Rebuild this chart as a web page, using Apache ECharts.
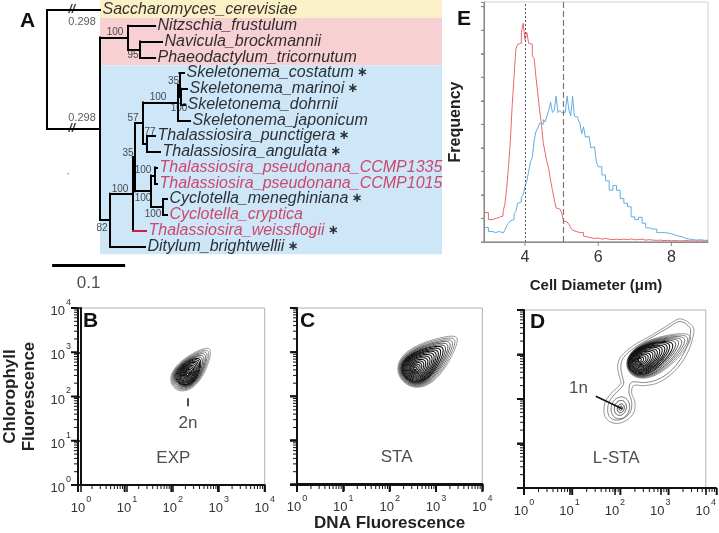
<!DOCTYPE html>
<html><head><meta charset="utf-8">
<script src="https://cdn.jsdelivr.net/npm/echarts@6/dist/echarts.min.js"></script>
<style>html,body{margin:0;padding:0;background:#fff}#c{width:719px;height:533px}</style>
</head><body><div id="c"></div>
<script>
// ================= DATA =================
// ---- Panel A: phylogenetic tree ----
const tipNames = ['Saccharomyces_cerevisiae','Nitzschia_frustulum','Navicula_brockmannii','Phaeodactylum_tricornutum',
  'Skeletonema_costatum','Skeletonema_marinoi','Skeletonema_dohrnii','Skeletonema_japonicum',
  'Thalassiosira_punctigera','Thalassiosira_angulata','Thalassiosira_pseudonana_CCMP1335','Thalassiosira_pseudonana_CCMP1015',
  'Cyclotella_meneghiniana','Cyclotella_cryptica','Thalassiosira_weissflogii','Ditylum_brightwellii'];
const tipParent = ['root','Pink','NavPh','NavPh','S35','S100','S100','S','N77','N77','Pse','Pse','Cyc','Cyc','N1','Blue'];
const tipDepth = [0.0726,0.148,0.1575,0.148,0.1877,0.1918,0.189,0.1959,0.148,0.1548,0.1507,0.1507,0.1644,0.1644,0.1356,0.1342];
const nodeIds = ['root','A','Pink','NavPh','Blue','N1','N2','N57','S','S35','S100','N77','N4','Pse','Cyc'];
const nodeParent = [null,'root','A','Pink','A','Blue','N1','N2','N57','S','S35','N57','N2','N4','N4'];
const nodeDepth = [0,0.0726,0.111,0.1274,0.0863,0.1178,0.1205,0.1315,0.1795,0.1815,0.1836,0.137,0.1425,0.148,0.1589];
const nodeSupport = ['','','100','95','82','100','35','57','100','35','100','77','100','100','100'];
const brokenBranches = ['Saccharomyces_cerevisiae','A'];
const brokenBranchLength = ['0.298','0.298'];
const redTipNames = ['Thalassiosira_pseudonana_CCMP1335','Thalassiosira_pseudonana_CCMP1015','Cyclotella_cryptica','Thalassiosira_weissflogii'];
const starTipNames = ['Skeletonema_costatum','Skeletonema_marinoi','Thalassiosira_punctigera','Thalassiosira_angulata','Cyclotella_meneghiniana','Thalassiosira_weissflogii','Ditylum_brightwellii'];
const redBranchTips = ['Thalassiosira_weissflogii'];
const bandFirstTip = [0,1,4];
const bandLastTip = [0,3,15];
const scaleBarLength = 0.1;

// ---- Panel E: cell diameter histograms ----
const histEdges = [2.9,3.0,3.1,3.2,3.3,
  3.40,3.45,3.50,3.55,3.60,3.65,3.70,3.75,3.80,3.85,3.90,3.95,4.00,4.05,4.10,4.15,4.20,4.25,4.30,4.35,
  4.40,4.45,4.50,4.55,4.60,4.65,4.70,4.75,4.80,4.85,4.90,4.95,5.00,5.05,5.10,5.15,5.20,5.25,5.30,5.35,
  5.40,5.45,5.50,5.55,5.60,5.65,5.70,5.75,5.80,5.85,5.90,5.95,
  6.0,6.1,6.2,6.3,6.4,6.5,6.6,6.7,6.8,6.9,7.0,7.1,7.2,7.3,7.4,7.5,7.6,7.7,7.8,7.9,8.0,8.1,8.2,8.3,8.4,8.5,8.6,8.7,8.8,8.9];
const histEnd = 9.0;
const histRed = [1.25,0.95,1.0,1.05,1.1,
  1.3,1.6,2.3,3.2,4.3,5.8,7.0,8.2,8.4,8.45,8.9,9.3,8.6,8.9,8.45,8.4,7.9,7.8,7.0,6.3,
  5.6,5.0,4.2,3.8,3.4,3.1,2.6,2.2,1.8,1.45,1.4,1.35,1.25,0.9,0.85,0.8,0.75,0.6,0.5,0.45,
  0.5,0.4,0.38,0.4,0.25,0.22,0.2,0.18,0.2,0.15,0.14,0.17,
  0.12,0.15,0.12,0.1,0.12,0.1,0.12,0.1,0.13,0.1,0.1,0.12,0.08,0.1,0.08,0.07,0.08,0.06,0.07,0.05,0.06,0.05,0.05,0.06,0.05,0.05,0.04,0.05,0.04,0.04];
const histBlue = [0.62,0.45,0.4,0.45,0.38,
  0.45,0.5,0.7,0.8,0.9,0.95,1.2,1.3,1.65,1.7,1.9,2.0,2.35,2.6,3.0,3.4,3.6,4.3,4.7,4.85,
  5.05,5.0,5.2,5.1,5.35,5.6,5.95,5.5,5.6,6.2,5.5,5.6,5.5,5.5,5.45,6.2,5.6,5.35,6.2,5.35,
  5.3,5.2,5.05,4.6,4.9,4.45,4.5,4.45,4.0,4.05,4.0,3.4,
  3.2,2.85,2.6,2.2,2.4,2.2,1.85,1.65,1.5,1.07,0.95,1.05,0.8,0.6,0.55,0.55,0.4,0.4,0.38,0.35,0.3,0.25,0.22,0.15,0.12,0.1,0.08,0.1,0.07,0.08];
const histMarkers = [4.0, 5.05];
const histTicks = [4,6,8];
const freqTicks = [0,1,2,3,4,5,6,7,8,9,10];

// ---- Panels B-D: contours in log10 units [cx, cy, semiMajor, semiMinor, angleDeg, egg] ----
const contoursB = [
  [2.42,2.63,0.58,0.28,50,0.35],[2.41,2.62,0.54,0.265,50,0.35],[2.40,2.61,0.50,0.25,50,0.35],
  [2.39,2.60,0.46,0.24,50,0.33],[2.38,2.59,0.42,0.23,50,0.3],[2.37,2.58,0.385,0.22,51,0.3],
  [2.36,2.57,0.35,0.205,52,0.28],[2.355,2.56,0.32,0.19,53,0.25],[2.35,2.55,0.29,0.175,54,0.25],
  [2.345,2.545,0.26,0.16,55,0.22],[2.34,2.54,0.23,0.145,55,0.2],[2.335,2.53,0.20,0.13,55,0.2],
  [2.33,2.525,0.17,0.11,55,0.18],[2.33,2.52,0.14,0.095,55,0.15],[2.325,2.515,0.11,0.075,55,0.12],
  [2.32,2.51,0.08,0.058,55,0.1],[2.32,2.505,0.055,0.04,55,0.05],[2.32,2.50,0.03,0.022,55,0]];
const contoursC = [
  [2.86,2.84,0.76,0.40,40,0.45],[2.84,2.825,0.72,0.38,40,0.45],[2.82,2.81,0.68,0.36,40,0.45],
  [2.80,2.80,0.64,0.345,40,0.45],[2.78,2.785,0.60,0.33,40,0.42],[2.76,2.77,0.56,0.315,40,0.42],
  [2.74,2.76,0.52,0.30,40,0.4],[2.72,2.745,0.48,0.285,41,0.4],[2.70,2.73,0.44,0.27,41,0.38],
  [2.685,2.72,0.40,0.255,42,0.36],[2.67,2.71,0.36,0.24,42,0.34],[2.655,2.70,0.32,0.22,42,0.32],
  [2.64,2.69,0.28,0.20,42,0.3],[2.625,2.68,0.24,0.18,42,0.28],[2.61,2.67,0.20,0.155,42,0.25],
  [2.595,2.66,0.165,0.13,42,0.2],[2.58,2.65,0.13,0.105,42,0.15],[2.57,2.64,0.095,0.08,42,0.1],
  [2.56,2.635,0.06,0.05,42,0.05],[2.55,2.63,0.03,0.025,42,0]];
const contoursD = [
  [2.98,3.02,0.78,0.36,30,0.35],[2.95,3.01,0.74,0.345,30,0.35],[2.92,3.00,0.70,0.33,30,0.35],
  [2.89,2.99,0.66,0.32,30,0.35],[2.86,2.98,0.62,0.305,31,0.35],[2.83,2.97,0.58,0.29,31,0.33],
  [2.80,2.96,0.54,0.28,31,0.32],[2.77,2.955,0.50,0.265,32,0.3],[2.75,2.95,0.46,0.25,32,0.3],
  [2.73,2.94,0.42,0.235,32,0.28],[2.71,2.935,0.38,0.22,33,0.26],[2.69,2.93,0.34,0.205,33,0.25],
  [2.67,2.92,0.30,0.19,33,0.24],[2.655,2.915,0.26,0.17,33,0.22],[2.64,2.91,0.22,0.15,33,0.2],
  [2.62,2.90,0.18,0.13,33,0.17],[2.605,2.895,0.14,0.105,33,0.13],[2.59,2.89,0.10,0.08,33,0.1],
  [2.57,2.885,0.065,0.055,33,0.05],[2.55,2.88,0.035,0.03,33,0]];
const contoursD1n = [[2.12,1.80,0.25,0.20,75,0],[2.12,1.80,0.17,0.13,75,0],[2.13,1.79,0.10,0.075,75,0],[2.13,1.79,0.05,0.035,75,0]];
const dPeanutOuter = [[3.72,3.62],[3.44,3.80],[3.17,3.66],[2.82,3.44],[2.41,3.20],[2.13,2.95],[2.06,2.73],[2.10,2.50],
  [2.13,2.35],[1.92,2.13],[1.78,1.91],[1.78,1.61],[1.96,1.46],[2.20,1.49],[2.41,1.68],[2.44,1.94],[2.37,2.13],
  [2.41,2.30],[2.65,2.30],[2.96,2.37],[3.31,2.62],[3.58,3.00],[3.72,3.40]];
const dPeanutInner = [[3.65,3.60],[3.43,3.74],[3.17,3.60],[2.82,3.39],[2.43,3.15],[2.19,2.93],[2.13,2.73],[2.16,2.52],
  [2.19,2.33],[1.99,2.10],[1.86,1.90],[1.86,1.64],[1.99,1.53],[2.18,1.56],[2.34,1.71],[2.37,1.94],[2.31,2.14],
  [2.36,2.37],[2.66,2.37],[2.95,2.44],[3.27,2.67],[3.52,3.03],[3.65,3.40]];
const logMin = 0, logMax = 4;
const logMajorTicks = [0,1,2,3,4];

// ================= BUILD =================
const RED = '#cc1f45';
const FONT = 'Liberation Sans, Arial, sans-serif';
const treeYMin = -0.635, treeYMax = 18.41, treeXMax = 0.5411;
const extE = [2.88, 9.0, 0, 10.2];
const extLog = [logMin, logMax, logMin, logMax];

const grids = [
  {left:47, top:0, width:395, height:300},
  {left:484, top:2, width:224, height:240, show:true, borderColor:'#d0d0d0', borderWidth:1},
  {left:78, top:308, width:186.7, height:177, show:true, borderColor:'#b0b0b0', borderWidth:1},
  {left:297, top:308, width:185.3, height:177, show:true, borderColor:'#b0b0b0', borderWidth:1},
  {left:524, top:310, width:192.7, height:178, show:true, borderColor:'#b0b0b0', borderWidth:1}
];

const nodeX = {}, nodeY = {}, parentOf = {}, childrenOf = {};
tipNames.forEach((n,i)=>{ nodeX[n]=tipDepth[i]; nodeY[n]=i; parentOf[n]=tipParent[i]; });
nodeIds.forEach((id,i)=>{ nodeX[id]=nodeDepth[i]; if(nodeParent[i]) parentOf[id]=nodeParent[i]; });
Object.keys(parentOf).forEach(c=>{ (childrenOf[parentOf[c]] = childrenOf[parentOf[c]] || []).push(c); });
function yOf(id){ if(nodeY[id]!==undefined) return nodeY[id]; const ys=childrenOf[id].map(yOf); nodeY[id]=(Math.min(...ys)+Math.max(...ys))/2; return nodeY[id]; }
yOf('root');

const treeEdges = [];
Object.keys(childrenOf).forEach(p=>{
  const ys = childrenOf[p].map(c=>nodeY[c]);
  treeEdges.push({coords:[[nodeX[p],Math.min(...ys)],[nodeX[p],Math.max(...ys)]]});
});
Object.keys(parentOf).forEach(c=>{
  const p = parentOf[c];
  treeEdges.push({coords:[[nodeX[p],nodeY[c]],[nodeX[c],nodeY[c]]], lineStyle:{color: redBranchTips.includes(c)?RED:'#000'}});
});

const supportOffsets = [null,null,[-13,-5],[-7,6],[-8,8],[-13,-5],[-7,-4],[-10,-5],[-20,-5],[-6,-4],[-2,12],[3,-12],[-8,7],[-12,-5],[-10,7]];
const supportData = [];
nodeIds.forEach((id,i)=>{ if(nodeSupport[i]) supportData.push({value:[nodeX[id],nodeY[id]], name:nodeSupport[i], label:{offset:supportOffsets[i]}}); });

const tipData = tipNames.map((n,i)=>({value:[nodeX[n],i], name:n}));
const bandColors = ['#faf1c9','#f6d0d3','#cde6f8'];

const breakX = 0.034, brokenLabelX = 0.048;
const breakData = brokenBranches.map(b=>({value:[breakX,nodeY[b]], name:'//'}));
const brokenLabelData = brokenBranches.map((b,i)=>({value:[brokenLabelX,nodeY[b]], name:brokenBranchLength[i], label:{offset:[0, i===0?12:-11]}}));

function stepData(vals){ const d = histEdges.map((e,i)=>[e, vals[i]]); d.push([histEnd, vals[vals.length-1]]); return d; }

const minorLog = [];
for(let d=logMin; d<logMax; d++) for(let k=2;k<=9;k++) minorLog.push(d+Math.log10(k));

function contourRender(shadeFn, widthFn){
  return function(params, api){
    const cx=api.value(0), cy=api.value(1), a=api.value(2), b=api.value(3), ang=api.value(4)*Math.PI/180, egg=api.value(5);
    const pts=[];
    for(let k=0;k<=80;k++){
      const t=k/80*2*Math.PI, u=a*Math.cos(t), v=b*Math.sin(t)*(1-egg*Math.cos(t));
      pts.push(api.coord([cx+u*Math.cos(ang)-v*Math.sin(ang), cy+u*Math.sin(ang)+v*Math.cos(ang)]));
    }
    const g = shadeFn(params.dataIndex);
    return {type:'polyline', silent:true, shape:{points:pts}, style:{stroke:'rgb('+g+','+g+','+g+')', lineWidth:widthFn(params.dataIndex), fill:null}};
  };
}
const shadeMain = i => i<6 ? Math.round(135 - i*22) : 15;
const widthMain = i => i<6 ? 0.85 : 1.05;
const shade1n = i => [95,60,30,20][i];

const supRich = {
  b:{fontSize:13, color:'#333', fontFamily:FONT, verticalAlign:'bottom', lineHeight:20},
  s:{fontSize:9, color:'#333', fontFamily:FONT, verticalAlign:'top', lineHeight:20, padding:[0,0,0,1]}
};
function logMajor(g, withLabels, extra){
  return Object.assign({gridIndex:g, type:'value', min:logMin, max:logMax, interval:1,
    axisLine:{show:true, onZero:false, lineStyle:{color:'#111', width:2}},
    axisTick:{show:true, inside:false, length:7, lineStyle:{color:'#111', width:1.5}},
    minorTick:{show:false},
    axisLabel:{show:withLabels, margin:10, formatter:v=>'{b|10}{s|'+Math.round(v)+'}', rich:supRich},
    splitLine:{show:false}}, extra||{});
}

const xAxes = [
  {gridIndex:0, type:'value', min:0, max:treeXMax, show:false},
  {gridIndex:1, type:'value', min:extE[0], max:extE[1],
    axisLine:{show:true, onZero:false, lineStyle:{color:'#8a8a8a'}}, axisTick:{show:false},
    axisLabel:{show:true, customValues:histTicks, fontSize:16, color:'#333', margin:8, fontFamily:FONT},
    splitLine:{show:false},
    name:'Cell Diameter (μm)', nameLocation:'middle', nameGap:36,
    nameTextStyle:{fontSize:15, fontWeight:'bold', color:'#222', fontFamily:FONT}},
  logMajor(2,true),
  logMajor(3,true,{name:'DNA Fluorescence', nameLocation:'middle', nameGap:31,
    nameTextStyle:{fontSize:17, fontWeight:'bold', color:'#222', fontFamily:FONT}}),
  logMajor(4,true)
];
const yAxes = [
  {gridIndex:0, type:'value', min:treeYMin, max:treeYMax, inverse:true, show:false},
  {gridIndex:1, type:'value', min:extE[2], max:extE[3], interval:1,
    axisLine:{show:true, onZero:false, lineStyle:{color:'#8a8a8a'}},
    axisTick:{show:true, inside:false, length:3, lineStyle:{color:'#8a8a8a'}},
    axisLabel:{show:false}, splitLine:{show:false},
    name:'Frequency', nameLocation:'middle', nameGap:20, nameRotate:90,
    nameTextStyle:{fontSize:16, fontWeight:'bold', color:'#222', fontFamily:FONT}},
  logMajor(2,true,{name:'Chlorophyll\nFluorescence', nameLocation:'middle', nameGap:42, nameRotate:90,
    nameTextStyle:{fontSize:17, fontWeight:'bold', color:'#222', lineHeight:19, fontFamily:FONT}}),
  logMajor(3,false), logMajor(4,false)
];

const series = [
  {type:'custom', xAxisIndex:0, yAxisIndex:0, z:1, silent:true,
    data: bandFirstTip.map((f,i)=>[f, bandLastTip[i]]),
    renderItem:(params, api)=>{
      const first=api.value(0), last=api.value(1);
      const p0=api.coord([nodeX.A, first===0?treeYMin:first-0.5]);
      const p1=api.coord([treeXMax, last+0.5]);
      return {type:'rect', shape:{x:p0[0], y:p0[1], width:p1[0]-p0[0], height:p1[1]-p0[1]}, style:{fill:bandColors[params.dataIndex]}};
    }},
  {type:'lines', coordinateSystem:'cartesian2d', xAxisIndex:0, yAxisIndex:0, z:3, silent:true,
    lineStyle:{color:'#000', width:2, cap:'square', opacity:1}, data:treeEdges},
  {type:'lines', coordinateSystem:'cartesian2d', xAxisIndex:0, yAxisIndex:0, z:3, silent:true,
    lineStyle:{color:'#000', width:3, opacity:1}, data:[{coords:[[0.007,16.2],[0.007+scaleBarLength,16.2]]}]},
  {type:'scatter', xAxisIndex:0, yAxisIndex:0, symbolSize:1, itemStyle:{color:'transparent'}, z:4, silent:true,
    data:[{value:[0.007+scaleBarLength/2, 17.35], name:String(scaleBarLength)}],
    label:{show:true, position:'inside', formatter:'{b}', fontSize:17, color:'#222', fontFamily:FONT}},
  {type:'scatter', xAxisIndex:0, yAxisIndex:0, symbolSize:1.5, itemStyle:{color:'#555'}, z:4, silent:true, data:[[0.029,10.4]]},
  {type:'scatter', xAxisIndex:0, yAxisIndex:0, symbolSize:1, itemStyle:{color:'transparent'}, z:4, silent:true, data:tipData,
    label:{show:true, position:'right', distance:2,
      formatter:p=>(redTipNames.includes(p.name)?'{r|'+p.name+'}':'{n|'+p.name+'}')+(starTipNames.includes(p.name)?' {a|∗}':''),
      rich:{n:{fontSize:16, fontStyle:'italic', color:'#000', fontFamily:FONT},
            r:{fontSize:16, fontStyle:'italic', color:RED, fontFamily:FONT},
            a:{fontSize:13, fontWeight:'bold', color:'#000', fontFamily:'DejaVu Sans'}}}},
  {type:'scatter', xAxisIndex:0, yAxisIndex:0, symbolSize:1, itemStyle:{color:'transparent'}, z:4, silent:true, data:supportData,
    label:{show:true, position:'inside', formatter:'{b}', fontSize:10, color:'#222', fontFamily:FONT}},
  {type:'scatter', xAxisIndex:0, yAxisIndex:0, symbolSize:1, itemStyle:{color:'transparent'}, z:5, silent:true, data:breakData,
    label:{show:true, position:'inside', formatter:'{b}', fontSize:12, fontWeight:'bold', fontStyle:'italic', color:'#000', fontFamily:FONT}},
  {type:'scatter', xAxisIndex:0, yAxisIndex:0, symbolSize:1, itemStyle:{color:'transparent'}, z:5, silent:true, data:brokenLabelData,
    label:{show:true, position:'inside', formatter:'{b}', fontSize:11, color:'#333', fontFamily:FONT}},

  // Panel E
  {type:'line', xAxisIndex:1, yAxisIndex:1, step:'end', symbol:'none', data:stepData(histBlue),
    lineStyle:{color:'#62ade0', width:1}, z:3, silent:true},
  {type:'line', xAxisIndex:1, yAxisIndex:1, step:'end', symbol:'none', data:stepData(histRed),
    lineStyle:{color:'#e8676f', width:1}, z:3, silent:true,
    markLine:{silent:true, symbol:['none','none'], label:{show:false},
      data:[{xAxis:histMarkers[0], lineStyle:{type:[2,2], color:'#555', width:1}},
            {xAxis:histMarkers[1], lineStyle:{type:[6,3], color:'#777', width:1.2}}]}},

  // Panels B, C, D contours
  {type:'custom', xAxisIndex:2, yAxisIndex:2, data:contoursB, renderItem:contourRender(shadeMain, widthMain), silent:true, z:3},
  {type:'custom', xAxisIndex:3, yAxisIndex:3, data:contoursC, renderItem:contourRender(shadeMain, widthMain), silent:true, z:3},
  {type:'custom', xAxisIndex:4, yAxisIndex:4, data:contoursD, renderItem:contourRender(shadeMain, widthMain), silent:true, z:3},
  {type:'custom', xAxisIndex:4, yAxisIndex:4, data:contoursD1n, renderItem:contourRender(shade1n, ()=>0.9), silent:true, z:3},
  {type:'custom', xAxisIndex:4, yAxisIndex:4, data:[[0,0],[1,1]], silent:true, z:3,
    renderItem:(params, api)=>{
      const poly = params.dataIndex===0 ? dPeanutOuter : dPeanutInner;
      const g = params.dataIndex===0 ? 140 : 120;
      return {type:'polygon', shape:{points:poly.map(p=>api.coord(p)), smooth:0.35},
        style:{stroke:'rgb('+g+','+g+','+g+')', lineWidth:0.9, fill:null}};
    }},
  // annotations
  {type:'lines', coordinateSystem:'cartesian2d', xAxisIndex:2, yAxisIndex:2, silent:true, z:4,
    lineStyle:{color:'#111', width:1.5, opacity:1}, data:[{coords:[[2.33,1.96],[2.33,1.78]]}]},
  {type:'lines', coordinateSystem:'cartesian2d', xAxisIndex:4, yAxisIndex:4, silent:true, z:4,
    lineStyle:{color:'#111', width:1.6, opacity:1}, data:[{coords:[[1.58,2.06],[2.16,1.78]]}]},
  {type:'scatter', xAxisIndex:2, yAxisIndex:2, symbolSize:1, itemStyle:{color:'transparent'}, silent:true, z:4,
    data:[{value:[2.01,0.60], name:'EXP'},{value:[2.33,1.39], name:'2n'}],
    label:{show:true, position:'inside', formatter:'{b}', fontSize:17, color:'#222', fontFamily:FONT}},
  {type:'scatter', xAxisIndex:3, yAxisIndex:3, symbolSize:1, itemStyle:{color:'transparent'}, silent:true, z:4,
    data:[{value:[2.15,0.60], name:'STA'}],
    label:{show:true, position:'inside', formatter:'{b}', fontSize:17, color:'#222', fontFamily:FONT}},
  {type:'scatter', xAxisIndex:4, yAxisIndex:4, symbolSize:1, itemStyle:{color:'transparent'}, silent:true, z:4,
    data:[{value:[2.03,0.67], name:'L-STA'},{value:[1.20,2.24], name:'1n'}],
    label:{show:true, position:'inside', formatter:'{b}', fontSize:17, color:'#222', fontFamily:FONT}}
];

// ---- axis frames and ticks drawn as thin filled rects with the value axes' linear mapping ----
const extOf = [null, extE, extLog, extLog, extLog];
function mapX(g, v){ const gr=grids[g], e=extOf[g]; return gr.left + (v-e[0])/(e[1]-e[0])*gr.width; }
function mapY(g, v){ const gr=grids[g], e=extOf[g]; return gr.top + gr.height - (v-e[2])/(e[3]-e[2])*gr.height; }
const axisGraphics = [];
function rect(x,y,w,h,color){ axisGraphics.push({type:'rect', silent:true, z:20, shape:{x:x, y:y, width:w, height:h}, style:{fill:color}}); }
function drawAxes(g, color, w, xMajor, yMajor, xMinor, yMinor, majLenX, majLenY, minLen, minW){
  const gr = grids[g];
  const x0 = gr.left, yb = gr.top + gr.height;
  rect(x0 - w/2, gr.top, w, gr.height + w/2, color);
  rect(x0 - w/2, yb - w/2, gr.width + w/2, w, color);
  xMajor.forEach(v=>{ const px=mapX(g,v); rect(px - w/2, yb, w, majLenX, color); });
  yMajor.forEach(v=>{ const py=mapY(g,v); rect(x0 - majLenY, py - w/2, majLenY, w, color); });
  xMinor.forEach(v=>{ const px=mapX(g,v); rect(px - minW/2, yb, minW, minLen, color); });
  yMinor.forEach(v=>{ const py=mapY(g,v); rect(x0 - minLen, py - minW/2, minLen, minW, color); });
}
drawAxes(1, '#8a8a8a', 1, histTicks, freqTicks, [], [], 4, 3, 0, 1);
[2,3,4].forEach(g=>drawAxes(g, '#111', 2, logMajorTicks, logMajorTicks, minorLog, minorLog, 7, 7, 4, 1));

const letters = [['A',28,22],['E',465,20],['B',91,322],['C',308,322],['D',538,323]];
const letterGraphics = letters.map(l=>({type:'text', left:l[1]-8, top:l[2]-11, z:10,
    style:{text:l[0], fontSize:21, fontWeight:'bold', fill:'#111', fontFamily:FONT}}));
const option = {
  animation:false,
  textStyle:{fontFamily:FONT},
  grid:grids, xAxis:xAxes, yAxis:yAxes, series:series,
  graphic: letterGraphics.concat(axisGraphics)
};
const chart = echarts.init(document.getElementById('c'));
chart.setOption(option);
</script></body></html>
